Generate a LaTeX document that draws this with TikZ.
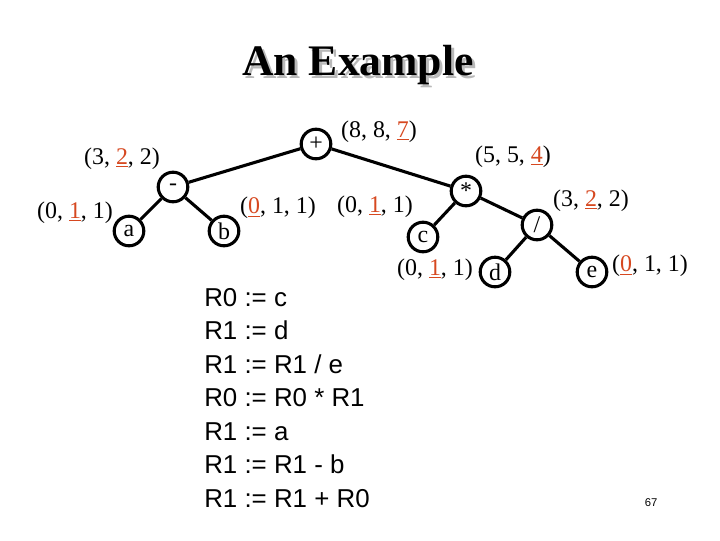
\documentclass[tikz,border=0pt]{standalone}
\usepackage{fontspec}
\setmainfont{Liberation Serif}
\setsansfont{Liberation Sans}
\usepackage{xcolor}
\usetikzlibrary{positioning}
\definecolor{hlred}{RGB}{214,72,32}
\definecolor{shadowgray}{RGB}{185,185,185}
\newcommand{\hl}[1]{\textcolor{hlred}{\underline{\textcolor{hlred}{#1}}}}

\begin{document}
\begin{tikzpicture}[x=0.025cm,y=-0.025cm,
  op/.style={draw,circle,line width=2.2pt,minimum size=0.74cm,inner sep=0pt,font=\fontsize{17}{20}\selectfont},
  lbl/.style={inner sep=0pt,font=\fontsize{17}{20}\selectfont},
  code/.style={anchor=base west,inner sep=0pt,font=\sffamily\fontsize{18.4}{23}\selectfont},
  edge/.style={line width=2.2pt}]
\useasboundingbox (0,0) rectangle (720,540);
% title
\node[font=\bfseries\fontsize{31}{36}\selectfont,text=shadowgray] (tshadow) at (361,68) {An Example};
\node[font=\bfseries\fontsize{31}{36}\selectfont] (title) at (358,65) {An Example};
% tree
\node[op] (plus) at (316,144) {+};
\node[op] (minus) at (173,187) {-};
\node[op] (a) at (129,231) {a};
\node[op] (b) at (224,231) {b};
\node[op] (times) at (466,191) {*};
\node[op] (c) at (423,237) {c};
\node[op] (div) at (537,225) {/};
\node[op] (d) at (495,272) {d};
\node[op] (e) at (592,272) {e};
\draw[edge](plus)--(minus);\draw[edge](plus)--(times);
\draw[edge](minus)--(a);\draw[edge](minus)--(b);
\draw[edge](times)--(c);\draw[edge](times)--(div);
\draw[edge](div)--(d);\draw[edge](div)--(e);
% labels
\node[lbl] (lplus) at (379,132) {(8, 8, \hl{7})};
\node[lbl] (lminus) at (122,159) {(3, \hl{2}, 2)};
\node[lbl] (la) at (75,213) {(0, \hl{1}, 1)};
\node[lbl] (lb) at (278,208) {(\hl{0}, 1, 1)};
\node[lbl] (lc) at (375,207) {(0, \hl{1}, 1)};
\node[lbl] (ltimes) at (513,157) {(5, 5, \hl{4})};
\node[lbl] (ldiv) at (591,201) {(3, \hl{2}, 2)};
\node[lbl] (ld) at (435,270) {(0, \hl{1}, 1)};
\node[lbl] (le) at (650,266) {(\hl{0}, 1, 1)};
% code
\foreach \txt [count=\i from 0] in {R0 := c,R1 := d,R1 := R1 / e,R0 := R0 * R1,R1 := a,R1 := R1 - b,R1 := R1 + R0}
  \node[code] (line\i) at (204,{306+33.5*\i}) {\txt};
\node[font=\sffamily\fontsize{8}{10}\selectfont] (page) at (651,503) {67};
\end{tikzpicture}
\end{document}
